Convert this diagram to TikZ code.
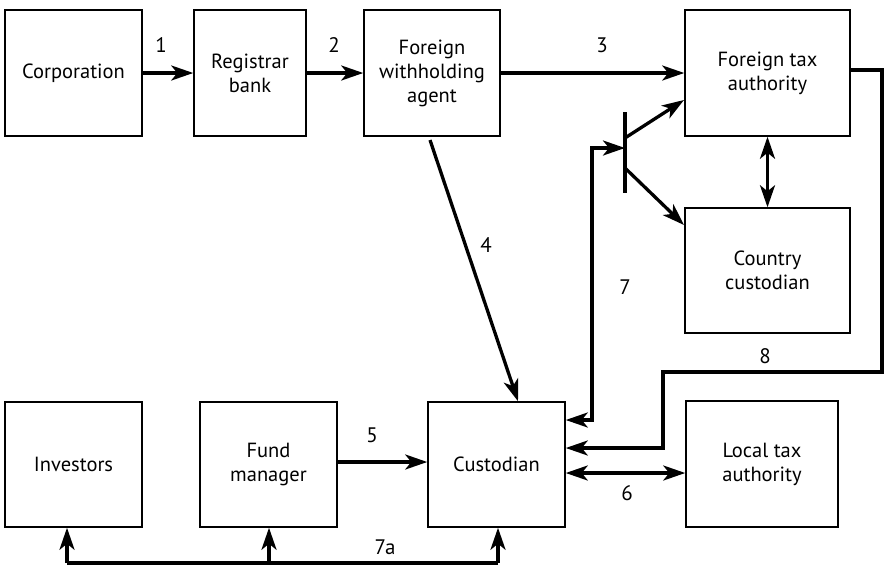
\documentclass[tikz,border=0pt]{standalone}
\usepackage{fontspec}
\setmainfont{PT Sans}
\usetikzlibrary{arrows.meta}
\begin{document}
\begin{tikzpicture}[x=1pt,y=-1pt,
  box/.style={draw,line width=1.5pt,inner sep=0pt,align=center,font=\fontsize{20.5}{24}\selectfont},
  conn/.style={line width=3.3pt,-{Stealth[length=22pt,width=15pt,inset=6pt]}},
  dconn/.style={line width=3.3pt,{Stealth[length=22pt,width=15pt,inset=6pt]}-{Stealth[length=22pt,width=15pt,inset=6pt]}},
  plain/.style={line width=3.3pt},
  lbl/.style={font=\fontsize{21}{24}\selectfont}]
\useasboundingbox (0,0) rectangle (887,566);
% boxes
\node[box,minimum width=137pt,minimum height=126pt] (corp) at (73.5,73) {Corporation};
\node[box,minimum width=112pt,minimum height=126pt] (reg) at (250,73) {Registrar\\bank};
\node[box,minimum width=136pt,minimum height=126pt] (fwa) at (432,73) {Foreign\\withholding\\agent};
\node[box,minimum width=165pt,minimum height=126pt] (fta) at (767.5,73) {Foreign tax\\authority};
\node[box,minimum width=165pt,minimum height=125pt] (cc) at (767.5,270.5) {Country\\custodian};
\node[box,minimum width=137pt,minimum height=125pt] (inv) at (73.5,464.5) {Investors};
\node[box,minimum width=137pt,minimum height=125pt] (fm) at (268.5,464.5) {Fund\\manager};
\node[box,minimum width=137pt,minimum height=125pt] (cus) at (496.5,464.5) {Custodian};
\node[box,minimum width=152pt,minimum height=126pt] (lta) at (762,464) {Local tax\\authority};
% arrows 1,2,3
\draw[conn] (corp.east) -- (reg.west);
\draw[conn] (reg.east) -- (fwa.west);
\draw[conn] (fwa.east) -- (fta.west);
\node[lbl] (l1) at (161,45) {1};
\node[lbl] (l2) at (334,45) {2};
\node[lbl] (l3) at (602,45) {3};
% arrow 4
\coordinate (a4s) at (430,140);
\draw[conn] (a4s) -- (cus.north -| 518,0);
\node[lbl] (l4) at (486,245) {4};
% transistor
\coordinate (bt) at (625,112);
\coordinate (bb) at (625,193);
\draw[line width=3.3pt] (bt) -- (bb);
\coordinate (b1) at (625,138);
\coordinate (b2) at (625,168);
\coordinate (ftaC) at (684,100);
\coordinate (ccC) at (684,225);
\draw[conn] (b1) -- (ftaC);
\draw[conn] (b2) -- (ccC);
\coordinate (bin) at (625,148);
\coordinate (c7) at (592,148);
\coordinate (c7b) at (592,420);
\draw[dconn] (bin) -- (c7) -- (c7b) -- (c7b -| cus.east);
\node[lbl] (l7) at (625,287) {7};
% fta <-> cc
\draw[dconn] (fta.south) -- (cc.north);
% arrow 8
\coordinate (p8a) at (882,70);
\coordinate (p8b) at (882,372);
\coordinate (p8c) at (663,372);
\coordinate (p8d) at (663,448);
\draw[conn] (fta.east |- p8a) -- (p8a) -- (p8b) -- (p8c) -- (p8d) -- (p8d -| cus.east);
\node[lbl] (l8) at (765,356) {8};
% 5 and 6
\draw[conn] (fm.east |- 0,462) -- (cus.west |- 0,462);
\node[lbl] (l5) at (372,435) {5};
\draw[dconn] (cus.east |- 0,473) -- (lta.west |- 0,473);
\node[lbl] (l6) at (627,493) {6};
% 7a
\coordinate (q1) at (67,563);
\coordinate (q2) at (269,563);
\coordinate (q3) at (498,563);
\draw[plain] (q1) -- (q3);
\draw[conn] (q1) -- (q1 |- inv.south);
\draw[conn] (q2) -- (q2 |- fm.south);
\draw[conn] (q3) -- (q3 |- cus.south);
\node[lbl] (l7a) at (385,547) {7a};
\end{tikzpicture}
\end{document}
